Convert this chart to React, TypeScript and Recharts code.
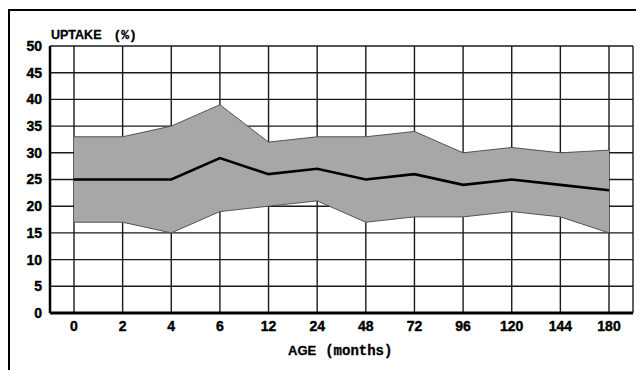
import {
  Area,
  CartesianGrid,
  ComposedChart,
  Line,
  XAxis,
  YAxis,
} from "recharts";

// ---------------------------------------------------------------------------
// Data
// ---------------------------------------------------------------------------

const AGES = ["0", "2", "4", "6", "12", "24", "48", "72", "96", "120", "144", "180"];
const UPPER = [33, 33, 35, 39, 32, 33, 33, 34, 30, 31, 30, 30.5];
const MEAN = [25, 25, 25, 29, 26, 27, 25, 26, 24, 25, 24, 23];
const LOWER = [17, 17, 15, 19, 20, 21, 17, 18, 18, 19, 18, 15];
const Y_TICKS = [0, 5, 10, 15, 20, 25, 30, 35, 40, 45, 50];

const data = AGES.map((age, i) => ({
  age,
  range: [LOWER[i], UPPER[i]],
  mean: MEAN[i],
}));

// ---------------------------------------------------------------------------
// Styling
// ---------------------------------------------------------------------------

const W = 636;
const H = 362;
const SANS = "'Liberation Sans', Arial, sans-serif";
const MONO = "'Liberation Mono', 'DejaVu Sans Mono', monospace";
const TICK = {
  fontSize: 14,
  fontWeight: 700,
  fill: "#000",
  stroke: "#000",
  strokeWidth: 0.4,
  fontFamily: SANS,
};

export default function App() {
  return (
    <div style={{ position: "relative", width: W, height: H }}>
      <div
        style={{
          position: "absolute",
          left: 0,
          top: 1,
          width: W,
          height: H,
          borderTop: "2px solid #000",
          borderLeft: "2px solid #000",
          boxSizing: "border-box",
        }}
      />
      <div style={{ position: "absolute", left: 0, top: 0 }}>
        <ComposedChart
          width={W}
          height={H}
          data={data}
          margin={{ top: 38, right: 11, bottom: 32, left: 0 }}
        >
          <CartesianGrid stroke="#1a1a1a" strokeWidth={1.4} />
          <XAxis
            dataKey="age"
            interval={0}
            height={25}
            padding={{ left: 24, right: 24 }}
            tickLine={false}
            axisLine={{ stroke: "#000", strokeWidth: 3 }}
            tick={TICK}
          />
          <YAxis
            width={42}
            domain={[0, 50]}
            ticks={Y_TICKS}
            interval={0}
            tickLine={false}
            axisLine={{ stroke: "#000", strokeWidth: 2.5 }}
            tick={TICK}
          />
          <Area
            dataKey="range"
            type="linear"
            fill="#a7a7a7"
            fillOpacity={1}
            stroke="#555"
            strokeWidth={1}
            isAnimationActive={false}
          />
          <Line
            dataKey="mean"
            type="linear"
            stroke="#000"
            strokeWidth={2.6}
            dot={false}
            isAnimationActive={false}
          />
        </ComposedChart>
      </div>
      <svg
        width={W}
        height={H}
        style={{ position: "absolute", left: 0, top: 0, pointerEvents: "none" }}
      >
        <text
          x={43}
          y={31}
          fontFamily={SANS}
          fontWeight={700}
          fontSize={12.5}
          stroke="#000"
          strokeWidth={0.3}
        >
          UPTAKE
          <tspan dx={12} fontFamily={MONO} fontSize={13}>
            (%)
          </tspan>
        </text>
        <text
          x={280}
          y={347}
          fontFamily={SANS}
          fontWeight={700}
          fontSize={13}
          stroke="#000"
          strokeWidth={0.3}
        >
          AGE
          <tspan dx={9} fontFamily={MONO} fontSize={14}>
            (months)
          </tspan>
        </text>
      </svg>
    </div>
  );
}
